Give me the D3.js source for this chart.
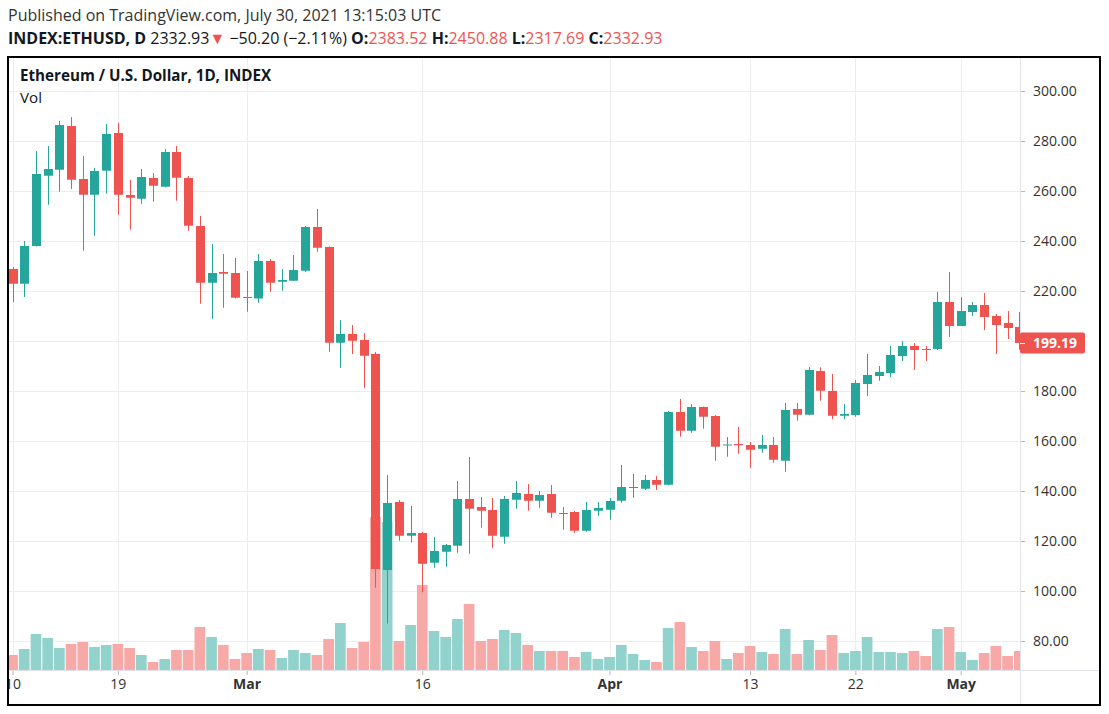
<!DOCTYPE html>
<html>
<head>
<meta charset="utf-8">
<script src="https://cdn.jsdelivr.net/npm/d3@7"></script>
<style>
  html, body { margin: 0; padding: 0; background: #fff; }
  svg { display: block; }
  text { font-family: "Open Sans", "Noto Sans", sans-serif; }
</style>
</head>
<body>
<div id="chart"></div>
<script>
// daily candles, ETH/USD, starting Feb 10 (2020)
var startDay = new Date(Date.UTC(2020, 1, 10));

var opens  = [228.8,222.9,238.0,266.1,268.5,286.0,264.8,258.5,268.1,283.2,
              258.4,256.9,265.2,261.7,275.6,265.2,246.0,223.3,227.6,227.2,
              217.6,217.0,232.0,223.7,224.1,228.1,245.6,237.6,199.3,202.8,
              200.4,194.8,108.4,135.6,122.1,123.2,111.3,115.7,118.1,136.8,
              133.6,132.4,121.7,136.5,138.8,136.1,138.8,131.2,131.6,124.1,
              132.1,132.5,136.1,141.3,140.9,144.4,142.5,171.6,164.1,173.6,
              170.0,158.3,158.8,158.4,156.9,158.4,152.1,172.8,170.5,188.0,
              180.0,170.1,170.4,182.8,186.0,187.2,194.0,198.0,196.8,196.8,
              215.6,206.0,211.6,214.4,210.0,207.2,205.6];
var highs  = [229.6,240.0,276.0,278.0,288.0,289.6,274.0,269.2,286.8,287.2,
              264.4,268.8,267.2,276.8,278.0,266.0,250.0,238.8,234.8,233.2,
              228.0,234.8,232.8,228.8,234.4,246.0,252.8,237.8,208.4,206.4,
              203.2,195.6,146.4,136.4,134.0,123.6,121.6,118.8,144.0,153.6,
              137.6,137.2,138.0,144.0,142.8,140.0,142.4,133.6,132.0,135.6,
              135.6,137.2,150.4,146.8,146.4,146.0,172.0,176.8,174.8,173.8,
              170.4,161.6,165.6,159.6,162.4,161.6,175.2,175.2,189.6,189.5,
              186.8,174.8,184.4,194.8,190.0,198.0,200.0,199.2,198.0,219.6,
              227.6,217.6,215.6,219.2,210.8,212.0,211.6];
var lows   = [215.6,217.6,237.8,254.5,259.7,260.8,236.1,242.1,258.9,250.5,
              244.5,254.9,255.7,261.5,256.1,244.1,214.9,208.9,213.3,217.0,
              211.7,215.3,219.7,220.1,224.0,227.6,235.7,195.7,189.3,194.8,
              181.3,101.3,87.0,120.1,119.3,99.5,109.3,109.7,115.3,114.9,
              125.3,117.3,118.9,132.9,132.1,133.3,129.3,124.5,123.3,123.7,
              130.1,128.5,135.3,137.3,140.4,140.4,142.3,161.7,163.3,164.9,
              152.1,153.7,154.9,149.3,155.3,151.3,147.7,168.1,170.3,176.1,
              168.7,168.7,169.7,178.0,184.1,185.6,192.0,188.4,192.0,196.4,
              201.6,206.0,210.0,204.4,194.8,200.8,196.5];
var closes = [222.9,238.0,266.8,268.8,286.4,264.5,258.5,268.0,282.8,258.5,
              257.3,265.6,262.1,275.6,265.3,246.1,223.3,227.2,226.9,217.3,
              217.2,232.0,223.3,224.4,228.4,245.6,237.3,199.3,202.8,200.1,
              194.1,108.8,135.2,122.1,123.2,110.9,116.0,118.4,136.8,132.9,
              132.1,122.1,136.8,139.2,136.1,138.4,131.3,130.8,124.1,132.4,
              133.2,136.0,141.6,141.6,144.4,142.5,171.6,164.1,173.6,169.7,
              157.7,158.6,158.3,156.5,158.4,152.5,172.4,170.5,188.4,180.1,
              170.1,170.8,183.2,186.4,187.6,194.4,198.0,196.4,196.4,215.6,
              206.0,212.0,214.4,209.6,206.4,205.2,199.19];
// volume, relative units
var volumes = [15,21,36,32,22,26,28,23,25,26,
               22,15,8,11,20,20,43,33,25,11,
               17,21,20,12,20,17,15,31,47,22,
               28,153,148,29,45,85,39,33,51,66,
               29,31,40,37,25,19,19,19,13,18,
               11,13,25,16,10,8,42,48,23,19,
               29,11,17,24,18,16,41,16,30,20,
               35,17,19,33,18,18,17,19,14,41,
               43,18,10,17,24,14,19];

var priceTicks = [80,100,120,140,160,180,200,220,240,260,280,300];
var timeTickDates = ["2020-02-10","2020-02-19","2020-03-01","2020-03-16",
                     "2020-04-01","2020-04-13","2020-04-22","2020-05-01"];
var timeTickLabels = ["10","19","Mar","16","Apr","13","22","May"];

var lastPrice = 199.19;

var upColor = "#26a69a", downColor = "#ef5350";
var upVol = "#92d2cc", downVol = "#f7a9a7";

var width = 1109, height = 714;
var plotL = 8, plotR = 1020, plotT = 57, plotB = 670, frameR = 1100, frameB = 705;

var svg = d3.select("#chart").append("svg")
  .attr("width", width).attr("height", height);

var x = d3.scaleUtc()
  .domain([startDay, new Date(Date.UTC(2020, 4, 1))])
  .range([12.5, 960.7]);
var y = d3.scaleLinear().domain([80, 300]).range([641, 91]);
var yVol = d3.scaleLinear().domain([0, d3.max(volumes)]).range([plotB, 517]);

var tickDates = timeTickDates.map(function(s) { return new Date(s + "T00:00:00Z"); });

var candles = opens.map(function(o, i) {
  return {date: d3.utcDay.offset(startDay, i), o: o, h: highs[i], l: lows[i], c: closes[i], v: volumes[i]};
});

// header text
var head = svg.append("g");
head.append("text").attr("x", 8).attr("y", 21)
  .attr("font-size", 16).attr("fill", "#333")
  .text("Published on TradingView.com, July 30, 2021 13:15:03 UTC");

var line2 = head.append("text").attr("x", 8).attr("y", 44)
  .attr("font-size", 16).attr("fill", "#131722");
line2.append("tspan").attr("font-weight", "bold").text("INDEX:ETHUSD, D");
line2.append("tspan").text(" 2332.93");
line2.append("tspan").attr("fill", downColor).text("\u25BC");
line2.append("tspan").text(" \u221250.20 (\u22122.11%) ");
[["O:", "2383.52"], ["H:", "2450.88"], ["L:", "2317.69"], ["C:", "2332.93"]].forEach(function(p, i) {
  line2.append("tspan").attr("font-weight", "bold").text((i ? " " : "") + p[0]);
  line2.append("tspan").attr("fill", downColor).text(p[1]);
});

// clip for the price pane
svg.append("clipPath").attr("id", "plotclip")
  .append("rect").attr("x", plotL).attr("y", plotT)
  .attr("width", plotR - plotL).attr("height", plotB - plotT);

// grid
var grid = svg.append("g").attr("clip-path", "url(#plotclip)");
grid.selectAll("line.h").data(priceTicks).enter().append("line")
  .attr("x1", plotL).attr("x2", plotR)
  .attr("y1", function(d) { return y(d) + 0.5; })
  .attr("y2", function(d) { return y(d) + 0.5; })
  .attr("stroke", "#ededed");
grid.selectAll("line.v").data(tickDates).enter().append("line")
  .attr("x1", function(d) { return Math.round(x(d)) + 0.5; })
  .attr("x2", function(d) { return Math.round(x(d)) + 0.5; })
  .attr("y1", plotT).attr("y2", plotB)
  .attr("stroke", "#ededed");

var plot = svg.append("g").attr("clip-path", "url(#plotclip)");

// volume bars behind candles
plot.selectAll("rect.vol").data(candles).enter().append("rect")
  .attr("x", function(d) { return x(d.date) - 5.3; })
  .attr("width", 10.7)
  .attr("y", function(d) { return yVol(d.v); })
  .attr("height", function(d) { return plotB - yVol(d.v); })
  .attr("fill", function(d) { return d.c >= d.o ? upVol : downVol; });

// wicks
plot.selectAll("line.wick").data(candles).enter().append("line")
  .attr("x1", function(d) { return Math.round(x(d.date)) + 0.5; })
  .attr("x2", function(d) { return Math.round(x(d.date)) + 0.5; })
  .attr("y1", function(d) { return y(d.h); })
  .attr("y2", function(d) { return y(d.l); })
  .attr("stroke", function(d) { return d.c >= d.o ? upColor : downColor; })
  .attr("stroke-width", 1);

// bodies
plot.selectAll("rect.body").data(candles).enter().append("rect")
  .attr("x", function(d) { return Math.round(x(d.date)) - 4; })
  .attr("width", 9)
  .attr("y", function(d) { return y(Math.max(d.o, d.c)); })
  .attr("height", function(d) { return Math.max(1, Math.abs(y(d.o) - y(d.c))); })
  .attr("fill", function(d) { return d.c >= d.o ? upColor : downColor; });

// price axis
var yAxis = svg.append("g").attr("transform", "translate(" + plotR + ",0)")
  .call(d3.axisRight(y).tickValues(priceTicks).tickFormat(d3.format(".2f"))
    .tickSize(5).tickPadding(8));
yAxis.select(".domain").remove();
yAxis.selectAll(".tick line").attr("stroke", "#b2b5be");
yAxis.selectAll(".tick text").attr("font-size", 14).attr("fill", "#333")
  .attr("font-family", "'Open Sans', sans-serif");

// time axis (clip rect is in the axis group's local coordinates)
svg.append("clipPath").attr("id", "xclip")
  .append("rect").attr("x", plotL).attr("y", 0)
  .attr("width", plotR - plotL).attr("height", frameB - plotB);
var xAxis = svg.append("g").attr("transform", "translate(0," + plotB + ")")
  .attr("clip-path", "url(#xclip)")
  .call(d3.axisBottom(x).tickValues(tickDates)
    .tickFormat(function(d, i) { return timeTickLabels[i]; })
    .tickSize(5).tickPadding(4));
xAxis.select(".domain").remove();
xAxis.selectAll(".tick line").attr("stroke", "#b2b5be");
xAxis.selectAll(".tick text").attr("font-size", 14).attr("fill", "#333")
  .attr("font-family", "'Open Sans', sans-serif")
  .attr("font-weight", function(d, i) { return isNaN(+timeTickLabels[i]) ? "bold" : "normal"; });

// pane separators
svg.append("line").attr("x1", plotR + 0.5).attr("x2", plotR + 0.5)
  .attr("y1", plotT).attr("y2", frameB).attr("stroke", "#e0e3eb");
svg.append("line").attr("x1", plotL).attr("x2", frameR)
  .attr("y1", plotB + 0.5).attr("y2", plotB + 0.5).attr("stroke", "#e0e3eb");

// last price label
var ly = y(lastPrice);
svg.append("rect").attr("x", plotR).attr("y", ly - 10.5)
  .attr("width", 65).attr("height", 21).attr("rx", 2).attr("fill", downColor);
svg.append("line").attr("x1", plotR).attr("x2", plotR + 5)
  .attr("y1", ly + 0.5).attr("y2", ly + 0.5).attr("stroke", "#fff");
svg.append("text").attr("x", plotR + 13).attr("y", ly).attr("dy", "0.35em")
  .attr("font-size", 14).attr("font-weight", "bold").attr("fill", "#fff")
  .text(d3.format(".2f")(lastPrice));

// legend
svg.append("text").attr("x", 20).attr("y", 81).attr("font-size", 15.2)
  .attr("font-weight", "bold").attr("fill", "#131722")
  .text("Ethereum / U.S. Dollar, 1D, INDEX");
svg.append("text").attr("x", 20).attr("y", 103).attr("font-size", 15.2)
  .attr("fill", "#131722").text("Vol");

// outer frame
svg.append("rect").attr("x", plotL).attr("y", plotT)
  .attr("width", frameR - plotL).attr("height", frameB - plotT)
  .attr("fill", "none").attr("stroke", "#000").attr("stroke-width", 2);
</script>
</body>
</html>
